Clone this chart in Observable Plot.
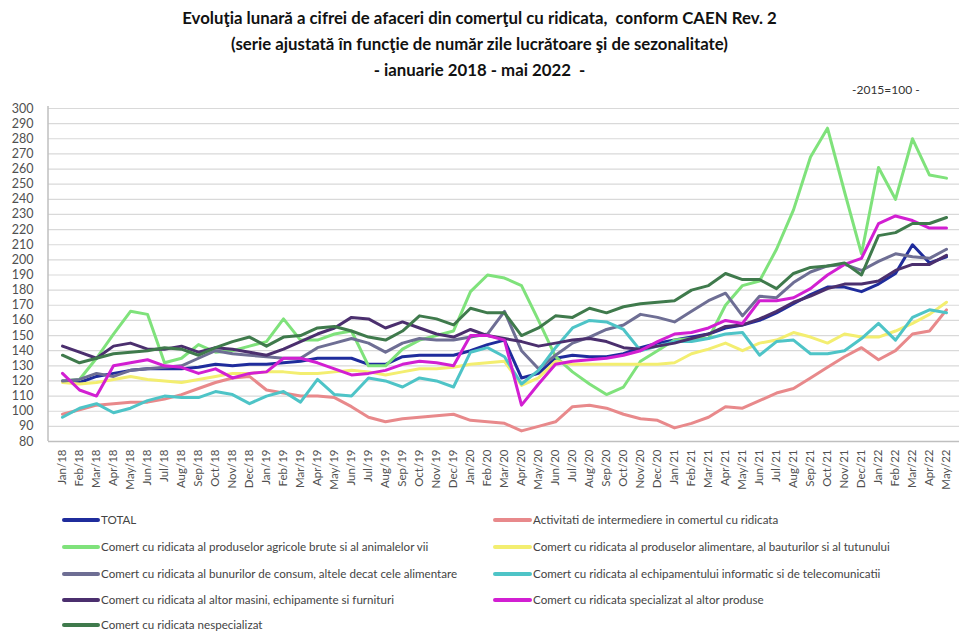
<!DOCTYPE html>
<html>
<head>
<meta charset="utf-8">
<script src="https://cdn.jsdelivr.net/npm/d3@7"></script>
<script src="https://cdn.jsdelivr.net/npm/@observablehq/plot@0.6"></script>
<style>
  html, body { margin: 0; padding: 0; background: #fff; }
  body { width: 959px; height: 633px; position: relative; overflow: hidden; font-family: Lato, "Open Sans", sans-serif; }
  #title { position: absolute; left: 0; top: 5px; width: 959px; text-align: center; font-weight: bold; font-size: 16.8px; line-height: 26px; color: #111; }
  #base { position: absolute; left: 852px; top: 82px; font-size: 12px; color: #333; }
  #chart { position: absolute; left: 0; top: 95px; }
  .leg { position: absolute; font-size: 11.6px; color: #444; white-space: nowrap; height: 14px; line-height: 14px; }
  .leg .sw { position: absolute; top: 5px; height: 3.5px; border-radius: 2px; }
  .leg span.t { position: absolute; top: 0; }
</style>
</head>
<body>
<div id="title">Evoluţia lunară a cifrei de afaceri din comerţul cu ridicata,&nbsp; conform CAEN Rev. 2<br>(serie ajustată în funcţie de număr zile lucrătoare şi de sezonalitate)<br>- ianuarie 2018 - mai 2022&nbsp; -</div>
<div id="base">-2015=100 -</div>
<div id="chart"></div>
<div id="legend"></div>
<script>
const months = [
  "Jan/18","Feb/18","Mar/18","Apr/18","May/18","Jun/18","Jul/18","Aug/18","Sep/18","Oct/18","Nov/18","Dec/18",
  "Jan/19","Feb/19","Mar/19","Apr/19","May/19","Jun/19","Jul/19","Aug/19","Sep/19","Oct/19","Nov/19","Dec/19",
  "Jan/20","Feb/20","Mar/20","Apr/20","May/20","Jun/20","Jul/20","Aug/20","Sep/20","Oct/20","Nov/20","Dec/20",
  "Jan/21","Feb/21","Mar/21","Apr/21","May/21","Jun/21","Jul/21","Aug/21","Sep/21","Oct/21","Nov/21","Dec/21",
  "Jan/22","Feb/22","Mar/22","Apr/22","May/22"
];
const yTicks = [80,90,100,110,120,130,140,150,160,170,180,190,200,210,220,230,240,250,260,270,280,290,300];

const total = [120,119,123,125,127,128,128,128,129,131,130,131, 131,132,133,135,135,135,131,131,136,137,137,137, 140,144,147,122,125,135,137,136,136,138,142,145, 147,149,151,155,157,160,165,171,177,182,182,179, 184,191,210,198,202];
const intermediere = [98,101,104,105,106,106,108,111,115,119,122,123, 114,112,110,110,109,103,96,93,95,96,97,98, 94,93,92,87,90,93,103,104,102,98,95,94, 89,92,96,103,102,107,112,115,122,129,136,142, 134,140,151,153,167];
const agricole = [120,121,135,151,166,164,132,135,144,139,140,143, 146,161,147,147,151,153,130,130,141,147,150,153, 179,190,188,183,160,136,126,118,111,116,133,140, 147,148,148,170,183,186,207,233,268,287,245,204, 261,240,280,256,254];
const alimentare = [119,118,119,121,123,121,120,119,121,123,125,125, 126,126,125,125,126,127,126,124,126,128,128,129, 131,132,133,117,122,133,131,131,131,131,131,131, 132,138,141,145,140,145,147,152,149,145,151,149, 149,153,158,164,172];
const consum = [120,121,125,123,127,128,129,130,135,140,138,137, 136,135,135,142,145,148,145,139,145,148,147,147, 149,151,166,140,128,137,145,149,154,157,164,162, 159,166,173,178,163,176,175,185,192,196,197,193, 199,204,202,201,207];
const itc = [96,102,105,99,102,107,110,109,109,113,111,105, 110,113,106,121,111,110,122,120,116,122,120,116, 139,142,136,118,127,142,155,160,159,154,140,143, 146,146,148,151,152,137,146,147,138,138,140,148, 158,147,162,167,165];
const masini = [143,139,135,143,145,141,141,143,139,142,141,139, 137,141,146,151,155,162,161,155,159,155,151,149, 154,150,148,146,143,145,147,148,146,142,141,143, 145,148,151,156,157,161,166,172,176,181,184,184, 186,193,197,197,203];
const specializat = [125,114,110,130,132,134,130,129,125,128,122,125, 126,135,135,132,128,124,125,127,131,133,132,130, 150,150,147,104,118,131,133,134,135,137,140,146, 151,152,155,160,158,173,173,175,181,190,197,201, 224,229,226,221,221];
const nespecializat = [137,132,135,138,139,140,142,141,137,142,146,149, 143,149,150,155,156,153,149,147,153,163,161,157, 168,165,165,150,155,163,162,168,165,169,171,172, 173,180,183,191,187,187,181,191,195,196,198,190, 216,218,224,224,228];

const seriesNames = [
  "TOTAL",
  "Activitati de intermediere in comertul cu ridicata",
  "Comert cu ridicata al produselor agricole brute si al animalelor vii",
  "Comert cu ridicata al produselor alimentare, al bauturilor si al tutunului",
  "Comert cu ridicata al bunurilor de consum, altele decat cele alimentare",
  "Comert cu ridicata al echipamentului informatic si de telecomunicatii",
  "Comert cu ridicata al altor masini, echipamente si furnituri",
  "Comert cu ridicata specializat al altor produse",
  "Comert cu ridicata nespecializat"
];
const seriesColors = ["#1f2c9c","#e8898b","#7fe27b","#f3ee70","#6e6e94","#4ec4c7","#4b2f6e","#d21fd2","#3f7a4c"];
const seriesValues = [total, intermediere, agricole, alimentare, consum, itc, masini, specializat, nespecializat];

const rows = [];
seriesValues.forEach((vals, s) => {
  vals.forEach((v, i) => rows.push({series: seriesNames[s], month: months[i], value: v}));
});

const leftLine = (index, scales, values, dims) => {
  const g = d3.create("svg:g");
  g.append("line")
    .attr("x1", dims.marginLeft).attr("x2", dims.marginLeft)
    .attr("y1", dims.marginTop - 2).attr("y2", dims.height - dims.marginBottom)
    .attr("stroke", "#bfbfbf").attr("stroke-width", 1.5);
  return g.node();
};

const chart = Plot.plot({
  width: 959,
  height: 410,
  marginLeft: 48,
  marginRight: 0,
  marginTop: 13,
  marginBottom: 64,
  style: {fontFamily: "Lato, 'Open Sans', sans-serif", color: "#505050", background: "transparent"},
  x: {type: "point", domain: months, padding: 0.4},
  y: {domain: [80, 300]},
  color: {domain: seriesNames, range: seriesColors},
  marks: [
    Plot.ruleY(yTicks, {stroke: "#d9d9d9", strokeWidth: 1.2}),
    Plot.ruleY([80], {stroke: "#bfbfbf", strokeWidth: 1.5}),
    leftLine,
    Plot.axisY({ticks: yTicks, tickSize: 0, tickPadding: 15, fontSize: 12.5, label: null}),
    Plot.axisX({tickRotate: -90, tickSize: 0, tickPadding: 8, fontSize: 11.5, label: null}),
    Plot.line(rows, {x: "month", y: "value", z: "series", stroke: "series", strokeWidth: 3, strokeLinejoin: "round", strokeLinecap: "round"})
  ]
});
document.getElementById("chart").appendChild(chart);

// legend
const legend = document.getElementById("legend");
const rowY = [513, 540, 567, 593, 618];
seriesNames.forEach((name, i) => {
  const col = i % 2, r = Math.floor(i / 2);
  const item = document.createElement("div");
  item.className = "leg";
  const sx = col === 0 ? 62 : 493;
  const sw = col === 0 ? 38 : 39;
  item.style.left = sx + "px";
  item.style.top = rowY[r] + "px";
  const swatch = document.createElement("div");
  swatch.className = "sw";
  swatch.style.left = "0px";
  swatch.style.width = sw + "px";
  swatch.style.background = seriesColors[i];
  const t = document.createElement("span");
  t.className = "t";
  t.style.left = (sw + 1) + "px";
  t.textContent = name;
  item.appendChild(swatch);
  item.appendChild(t);
  legend.appendChild(item);
});
</script>
</body>
</html>
